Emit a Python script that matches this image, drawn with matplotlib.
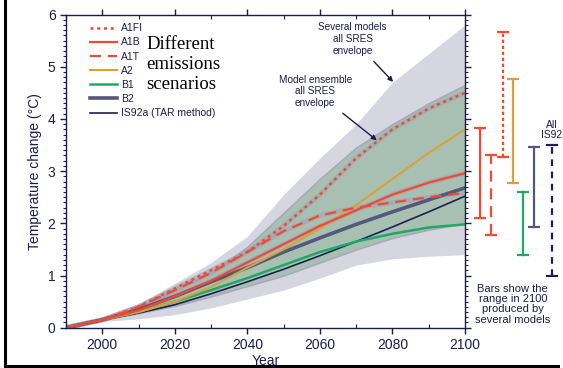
import matplotlib.pyplot as plt
import matplotlib.lines as mlines
import numpy as np

# years and scenario curves
years = [1990, 2000, 2010, 2020, 2030, 2040, 2050, 2060, 2070, 2080, 2090, 2100]
a1fi = [0, 0.15, 0.40, 0.75, 1.10, 1.45, 1.95, 2.55, 3.25, 3.80, 4.20, 4.50]
a1b = [0, 0.15, 0.33, 0.60, 0.90, 1.25, 1.60, 1.95, 2.25, 2.55, 2.78, 2.96]
a1t = [0, 0.15, 0.40, 0.72, 1.05, 1.45, 1.85, 2.15, 2.30, 2.40, 2.50, 2.58]
a2 = [0, 0.15, 0.30, 0.50, 0.78, 1.15, 1.50, 1.90, 2.35, 2.85, 3.35, 3.80]
b1 = [0, 0.15, 0.30, 0.50, 0.72, 0.95, 1.20, 1.45, 1.65, 1.80, 1.92, 1.98]
b2 = [0, 0.15, 0.35, 0.60, 0.88, 1.15, 1.45, 1.72, 1.98, 2.22, 2.45, 2.68]
is92a = [0, 0.15, 0.28, 0.44, 0.65, 0.88, 1.12, 1.38, 1.65, 1.93, 2.22, 2.52]

# envelopes
sev_hi = [0, 0.15, 0.45, 0.85, 1.25, 1.75, 2.55, 3.25, 3.90, 4.70, 5.25, 5.80]
sev_lo = [0, 0.12, 0.17, 0.25, 0.38, 0.55, 0.72, 0.95, 1.20, 1.32, 1.37, 1.40]
ens_hi = [0, 0.15, 0.40, 0.70, 1.05, 1.55, 2.20, 2.85, 3.45, 3.90, 4.30, 4.65]
ens_lo = [0, 0.15, 0.28, 0.42, 0.60, 0.80, 1.00, 1.25, 1.50, 1.72, 1.88, 2.00]

# range bars in 2100 (low, high)
bar_names = ['A1B', 'A1T', 'A1FI', 'A2', 'B1', 'B2', 'IS92']
bar_lo = [2.10, 1.77, 3.27, 2.77, 1.39, 1.93, 1.00]
bar_hi = [3.82, 3.30, 5.66, 4.76, 2.60, 3.46, 3.50]
bar_x = [2104.1, 2107.2, 2110.5, 2113.2, 2116.0, 2119.0, 2124.0]

navy = '#1c1c4c'
c_red = '#f04a32'
c_gold = '#d8a23a'
c_green = '#1fa866'
c_b2 = '#55587a'
c_is = '#1e1e55'

plt.rcParams['font.family'] = ['Liberation Sans', 'DejaVu Sans']

fig = plt.figure(figsize=(5.63, 3.68), dpi=100)
ax = fig.add_axes([0.1172, 0.1095, 0.7087, 0.851])

ax.fill_between(years, sev_lo, sev_hi, color='#d6d6e0', lw=0)
ax.fill_between(years, ens_lo, ens_hi, facecolor='#a8c0b2', edgecolor='#a8aab8', lw=1.2)

halo = '#a0a2b4'
ax.plot(years, a1fi, color=halo, lw=3.5, alpha=0.6)
ax.plot(years, a1t, color=halo, lw=3.5, alpha=0.6)
ax.plot(years, a1b, color=halo, lw=3.5, alpha=0.6)

l_is, = ax.plot(years, is92a, color=c_is, lw=1.2, label='IS92a (TAR method)')
l_b1, = ax.plot(years, b1, color=c_green, lw=1.8, label='B1')
l_b2, = ax.plot(years, b2, color=c_b2, lw=2.6, label='B2')
l_a2, = ax.plot(years, a2, color=c_gold, lw=1.5, label='A2')
l_a1t, = ax.plot(years, a1t, color=c_red, lw=1.6, ls=(0, (5, 3)), label='A1T')
l_a1b, = ax.plot(years, a1b, color=c_red, lw=1.6, label='A1B')
l_a1fi, = ax.plot(years, a1fi, color=c_red, lw=1.8, ls=(0, (1.2, 1.5)), label='A1FI')

ax.legend(handles=[l_a1fi, l_a1b, l_a1t, l_a2, l_b1, l_b2, l_is],
          loc='upper left', bbox_to_anchor=(0.06, 0.972), frameon=False,
          fontsize=7.5, handlelength=2.6, labelspacing=0.4, borderpad=0,
          borderaxespad=0, handletextpad=0.4, labelcolor=navy)

ax.text(2012.2, 5.58, 'Different\nemissions\nscenarios', family='Liberation Serif',
        fontsize=13.5, color='black', va='top', ha='left', linespacing=1.22)

ax.annotate('Several models\nall SRES\nenvelope', xy=(2080.2, 4.71), xytext=(2069, 5.53),
            ha='center', va='center', fontsize=7.2, color=navy,
            arrowprops=dict(arrowstyle='-|>', color=navy, lw=1, shrinkA=3, shrinkB=0))
ax.annotate('Model ensemble\nall SRES\nenvelope', xy=(2075.7, 3.59), xytext=(2058.7, 4.53),
            ha='center', va='center', fontsize=7.2, color=navy,
            arrowprops=dict(arrowstyle='-|>', color=navy, lw=1, shrinkA=3, shrinkB=0))

# range bars on the right
bar_colors = [c_red, c_red, c_red, c_gold, c_green, c_b2, c_is]
bar_styles = ['-', (0, (5, 3)), (0, (1.5, 1.2)), '-', '-', '-', (0, (3, 2.5))]
for x, lo, hi, c, s in zip(bar_x, bar_lo, bar_hi, bar_colors, bar_styles):
    ax.plot([x, x], [lo, hi], color=c, lw=1.6, ls=s, clip_on=False)
    ax.plot([x, x], [lo, hi], color=c, lw=0, marker='_', ms=8, mew=1.6, clip_on=False)

ax.text(2124.0, 3.78, 'All\nIS92', ha='center', va='center', fontsize=7.4, color=navy,
        linespacing=1.0)
ax.text(2113.2, 0.45, 'Bars show the\nrange in 2100\nproduced by\nseveral models',
        ha='center', va='center', fontsize=8, color=navy, linespacing=1.05)

ax.set_xlim(1990, 2100)
ax.set_ylim(0, 6)
ax.set_xticks([2000, 2020, 2040, 2060, 2080, 2100])
ax.set_xticks(np.arange(1990, 2101, 10), minor=True)
ax.set_yticks(range(7))
ax.set_yticks(np.arange(0, 6.01, 0.1), minor=True)
ax.tick_params(which='major', direction='out', length=4, width=1, colors=navy,
               labelsize=10, top=True, right=True)
ax.tick_params(which='minor', direction='out', length=2, width=0.8, colors=navy,
               top=True, right=True)
ax.tick_params(axis='x', which='minor', direction='in', length=3)
for sp in ax.spines.values():
    sp.set_color(navy)
    sp.set_linewidth(1)

ax.set_xlabel('Year', fontsize=10, color=navy, labelpad=1)
ax.set_ylabel('Temperature change (°C)', fontsize=10, color=navy, labelpad=4)

# image frame lines
fig.add_artist(mlines.Line2D([4.5 / 563, 4.5 / 563], [2 / 368, 1], color='black', lw=2.2))
fig.add_artist(mlines.Line2D([4.5 / 563, 558 / 563], [2 / 368, 2 / 368], color='black', lw=2.2))

fig.savefig('out.png', dpi=100)
